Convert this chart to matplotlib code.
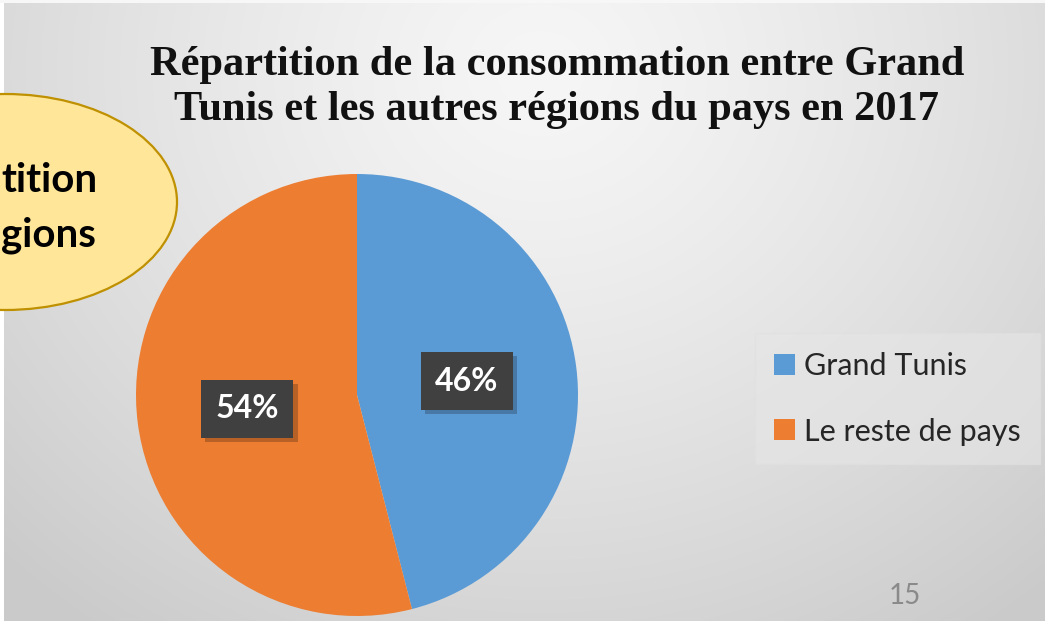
import numpy as np
import matplotlib
matplotlib.use("Agg")
import matplotlib.pyplot as plt
from matplotlib.patches import Ellipse
import matplotlib.patheffects as pe

# ---- data ----
categories = ["Grand Tunis", "Le reste de pays"]
values = [46, 54]
colors = ["#5B9BD5", "#ED7D31"]
title_lines = ["Répartition de la consommation entre Grand",
               "Tunis et les autres régions du pays en 2017"]
callout_lines = ["tition", "gions"]
page_number = "15"

W, H = 1045, 621
fig = plt.figure(figsize=(W / 100, H / 100), dpi=100)

# ---- background gradient ----
bg = fig.add_axes([0, 0, 1, 1], zorder=0)
yy, xx = np.mgrid[0:H, 0:W]
d = np.sqrt(((xx - 540) / 1.0) ** 2 + ((yy - 70) / 0.9) ** 2)
v = 0.965 - 0.17 * np.clip(d / 760, 0, 1) ** 1.3
img = np.dstack([v, v, v])
img[:, :4, :] = 1.0
img[:3, :, :] = 0.97
bg.imshow(img, extent=[0, W, H, 0], aspect="auto", interpolation="bilinear")
bg.set_xlim(0, W)
bg.set_ylim(H, 0)
bg.axis("off")

# ---- callout ellipse ----
ell = Ellipse((5, 202), 2 * 172, 2 * 108, facecolor="#FFE699",
              edgecolor="#BF9000", linewidth=1.6, zorder=3)
bg.add_patch(ell)
bg.text(1, 192, callout_lines[0], fontsize=29, fontweight="bold",
        family="Lato", color="black", ha="left", va="baseline", zorder=4)
bg.text(1, 246, callout_lines[1], fontsize=29, fontweight="bold",
        family="Lato", color="black", ha="left", va="baseline", zorder=4)

# ---- title ----
bg.text(557, 75, title_lines[0], fontsize=30.5, fontweight="bold",
        family="Liberation Serif", color="#111111", ha="center", va="baseline", zorder=4)
bg.text(556, 120, title_lines[1], fontsize=30.5, fontweight="bold",
        family="Liberation Serif", color="#111111", ha="center", va="baseline", zorder=4)

# ---- page number ----
bg.text(905, 596, page_number, fontsize=20, family="Lato", color="#8a8a8a",
        ha="center", va="center", zorder=4)

# ---- pie ----
cx, cy, r = 357, 395, 221
ax = fig.add_axes([(cx - r) / W, (H - cy - r) / H, 2 * r / W, 2 * r / H], zorder=2)
wedges, texts, autotexts = ax.pie(
    values, colors=colors, startangle=90, counterclock=False,
    autopct=lambda p: f"{p:.0f}%", pctdistance=0.5,
    wedgeprops=dict(linewidth=0, edgecolor="none"),
    textprops=dict(color="white", fontsize=23, fontweight="bold", family="Lato"))
for t in autotexts:
    t.set_bbox(dict(boxstyle="square,pad=0.45", facecolor="#404040", edgecolor="none"))
    t.get_bbox_patch().set_path_effects(
        [pe.SimplePatchShadow(offset=(3, -3), shadow_rgbFace="black", alpha=0.22), pe.Normal()])
ax.set_xlim(-1, 1)
ax.set_ylim(-1, 1)
ax.set_aspect("auto")
ax.axis("off")

# ---- legend ----
leg = fig.legend(wedges, categories, loc="upper left",
                 bbox_to_anchor=(755 / W, 1 - 333 / H),
                 frameon=True, fancybox=False, facecolor="#e6e6e6",
                 edgecolor="#e0e0e0", framealpha=0.6,
                 prop=dict(family="Lato", size=22),
                 handlelength=0.69, handleheight=0.69, handletextpad=0.3,
                 labelspacing=1.23, borderpad=0.62, borderaxespad=0,
                 labelcolor="#262626")
fig.savefig("out.png", dpi=100)
